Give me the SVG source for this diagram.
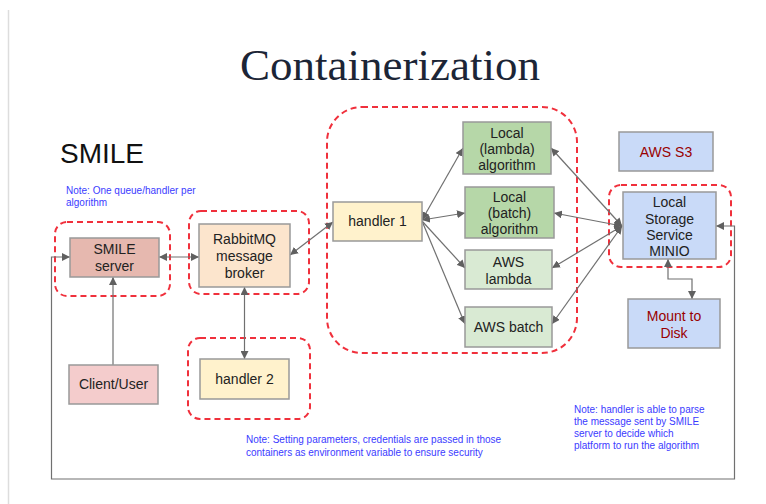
<svg xmlns="http://www.w3.org/2000/svg" width="766" height="504" viewBox="0 0 766 504">
<style>
.bg{fill:#ffffff}
.node{stroke:#999999;stroke-width:1.5}
.t{font-family:"Liberation Sans",Arial,sans-serif;font-size:14px;fill:#222222;text-anchor:middle}
.tr{font-family:"Liberation Sans",Arial,sans-serif;font-size:14px;fill:#990000;text-anchor:middle}
.note{font-family:"Liberation Sans",Arial,sans-serif;font-size:10px;fill:#3b3bff}
.dash{fill:none;stroke:#f0303c;stroke-width:2;stroke-dasharray:6,4}
.c{fill:none;stroke:#707070;stroke-width:1.2}
</style>
<defs>
<marker id="ah" markerUnits="userSpaceOnUse" markerWidth="8" markerHeight="8" viewBox="0 0 10 10" refX="10" refY="5" orient="auto-start-reverse">
<path d="M0,0 L10,5 L0,10 z" fill="#606060"/>
</marker>
</defs>
<rect class="bg" x="0" y="0" width="766" height="504"/>
<line x1="8.5" y1="10" x2="8.5" y2="504" stroke="#dddddd" stroke-width="1.5"/>

<text x="390" y="80" font-family="'Liberation Serif','Times New Roman',serif" font-size="45" fill="#1c2536" text-anchor="middle">Containerization</text>
<text x="60" y="163" font-family="'Liberation Sans',Arial,sans-serif" font-size="28" fill="#111111">SMILE</text>

<g id="notes">
<text class="note" x="66" y="194">Note: One queue/handler per</text>
<text class="note" x="66" y="206">algorithm</text>
<text class="note" x="246" y="443">Note: Setting parameters, credentials are passed in those</text>
<text class="note" x="246" y="456">containers as environment variable to ensure security</text>
<text class="note" x="574" y="413">Note: handler is able to parse</text>
<text class="note" x="574" y="425">the message sent by SMILE</text>
<text class="note" x="574" y="437">server to decide which</text>
<text class="note" x="574" y="449">platform to run the algorithm</text>
</g>

<g id="containers">
<rect class="dash" x="55" y="222" width="115" height="74" rx="12"/>
<rect class="dash" x="189" y="211" width="120" height="83" rx="12"/>
<rect class="dash" x="188" y="338" width="122" height="81" rx="12"/>
<rect class="dash" x="327" y="107" width="250" height="246" rx="35"/>
<rect class="dash" x="609" y="185" width="122" height="82" rx="12"/>
</g>

<g id="connectors">
<line class="c" x1="159" y1="257" x2="199" y2="257" marker-start="url(#ah)" marker-end="url(#ah)"/>
<line class="c" x1="113" y1="365" x2="113" y2="277" marker-end="url(#ah)"/>
<line class="c" x1="244.5" y1="287" x2="244.5" y2="359" marker-start="url(#ah)" marker-end="url(#ah)"/>
<line class="c" x1="290" y1="255" x2="333" y2="222" marker-start="url(#ah)" marker-end="url(#ah)"/>
<line class="c" x1="422" y1="220" x2="463" y2="148" marker-start="url(#ah)" marker-end="url(#ah)"/>
<line class="c" x1="422" y1="220" x2="465" y2="213" marker-start="url(#ah)" marker-end="url(#ah)"/>
<line class="c" x1="422" y1="221" x2="465" y2="268" marker-end="url(#ah)"/>
<line class="c" x1="422" y1="221" x2="465" y2="324" marker-end="url(#ah)"/>
<line class="c" x1="622" y1="226" x2="551" y2="148" marker-start="url(#ah)" marker-end="url(#ah)"/>
<line class="c" x1="622" y1="226" x2="554" y2="213" marker-start="url(#ah)" marker-end="url(#ah)"/>
<line class="c" x1="622" y1="226" x2="552" y2="268" marker-start="url(#ah)" marker-end="url(#ah)"/>
<line class="c" x1="622" y1="226" x2="552" y2="324" marker-start="url(#ah)" marker-end="url(#ah)"/>
<polyline class="c" points="668,259 668,279 692,279 692,299" marker-start="url(#ah)" marker-end="url(#ah)"/>
<polyline class="c" points="716,226 734.5,226 734.5,479 51.5,479 51.5,257 70,257" marker-start="url(#ah)" marker-end="url(#ah)"/>
</g>

<g id="smile-server">
<rect class="node" x="70" y="238" width="89" height="39" fill="#e6b8af"/>
<text class="t" x="114.5" y="254">SMILE</text>
<text class="t" x="114.5" y="271">server</text>
</g>
<g id="client-user">
<rect class="node" x="69" y="365" width="89" height="39" fill="#f4cccc"/>
<text class="t" x="113.5" y="389">Client/User</text>
</g>
<g id="rabbitmq">
<rect class="node" x="199" y="224" width="91" height="63" fill="#fce5cd"/>
<text class="t" x="244.5" y="244">RabbitMQ</text>
<text class="t" x="244.5" y="261">message</text>
<text class="t" x="244.5" y="278">broker</text>
</g>
<g id="handler-2">
<rect class="node" x="200" y="359" width="89" height="40" fill="#fff2cc"/>
<text class="t" x="244.5" y="384">handler 2</text>
</g>
<g id="handler-1">
<rect class="node" x="333" y="202" width="89" height="39" fill="#fff2cc"/>
<text class="t" x="377.5" y="226">handler 1</text>
</g>
<g id="local-lambda">
<rect class="node" x="463" y="122" width="88" height="52" fill="#b6d7a8"/>
<text class="t" x="507" y="138">Local</text>
<text class="t" x="507" y="154">(lambda)</text>
<text class="t" x="507" y="170">algorithm</text>
</g>
<g id="local-batch">
<rect class="node" x="465" y="187" width="89" height="51" fill="#b6d7a8"/>
<text class="t" x="509.5" y="202">Local</text>
<text class="t" x="509.5" y="218">(batch)</text>
<text class="t" x="509.5" y="234">algorithm</text>
</g>
<g id="aws-lambda">
<rect class="node" x="465" y="250" width="87" height="39" fill="#d9ead3"/>
<text class="t" x="508.5" y="267">AWS</text>
<text class="t" x="508.5" y="284">lambda</text>
</g>
<g id="aws-batch">
<rect class="node" x="465" y="307" width="87" height="40" fill="#d9ead3"/>
<text class="t" x="508.5" y="332">AWS batch</text>
</g>
<g id="aws-s3">
<rect class="node" x="619" y="132" width="94" height="39" fill="#c9daf8"/>
<text class="tr" x="666" y="157">AWS S3</text>
</g>
<g id="minio">
<rect class="node" x="623" y="192" width="93" height="67" fill="#c9daf8"/>
<text class="t" x="669.5" y="207">Local</text>
<text class="t" x="669.5" y="224">Storage</text>
<text class="t" x="669.5" y="240">Service</text>
<text class="t" x="669.5" y="256">MINIO</text>
</g>
<g id="mount-disk">
<rect class="node" x="628" y="299" width="92" height="49" fill="#c9daf8"/>
<text class="tr" x="674" y="321">Mount to</text>
<text class="tr" x="674" y="338">Disk</text>
</g>
</svg>
